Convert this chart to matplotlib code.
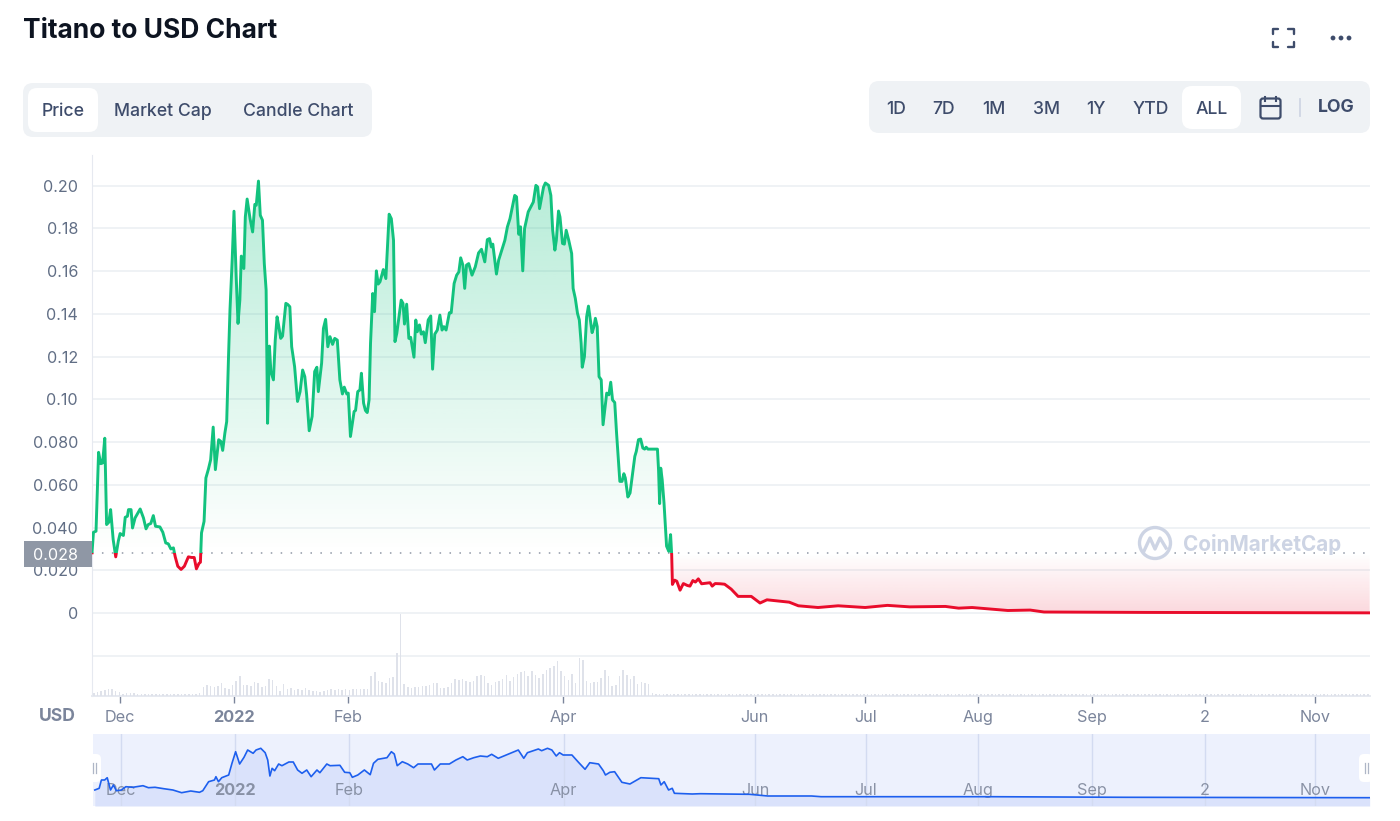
import numpy as np
import matplotlib
matplotlib.use("Agg")
import matplotlib.pyplot as plt
from matplotlib.patches import FancyBboxPatch, Rectangle, Circle

plt.rcParams['font.family'] = ['Inter', 'DejaVu Sans']

W, H = 1400, 821

# === Data ===
price_days = [
    0, .4, 1.1, 1.8, 2.4, 2.9, 3.5, 4.0, 4.6, 5.1, 5.8, 6.5, 7.2, 7.7, 8.6, 9.1, 9.7, 10.0, 10.7, 11.1,
    11.8, 13.2, 14.1, 14.8, 15.4, 16.1, 16.8, 17.4, 18.6, 19.4, 20.2, 20.9, 21.6, 22.3, 22.8, 23.5, 24.4, 25.3, 26.4, 27.3,
    28.0, 28.6, 29.3, 29.7, 30.0, 30.7, 31.2, 31.9, 32.5, 33.2, 33.8, 34.7, 35.3, 35.8, 36.4, 36.9, 37.4, 37.8, 38.4, 38.9,
    39.5, 40.0, 40.5, 40.9, 41.6, 42.0, 42.5, 43.3, 44.0, 44.6, 45.0, 45.6, 46.1, 46.7, 47.2, 47.7, 48.1, 48.6, 49.0, 49.7,
    50.2, 50.7, 51.1, 51.7, 52.2, 53.1, 53.6, 54.2, 54.7, 55.5, 56.3, 57.0, 57.7, 58.3, 58.8, 59.5, 60.3, 61.0, 61.6, 62.0,
    62.9, 63.4, 64.0, 64.6, 65.2, 65.9, 66.5, 67.2, 67.9, 68.6, 69.1, 69.8, 70.2, 70.8, 71.8, 72.2, 72.8, 73.4, 73.8, 74.4,
    74.9, 75.4, 75.9, 76.3, 76.9, 77.4, 77.9, 78.4, 78.9, 79.8, 80.5, 81.4, 82.0, 82.6, 83.0, 83.5, 84.7, 85.2, 85.6, 86.2,
    86.8, 87.3, 88.2, 88.7, 89.1, 89.7, 90.2, 90.8, 91.3, 92.1, 92.8, 93.3, 93.9, 94.6, 95.3, 95.9, 96.4, 97.0, 97.9, 98.4,
    99.2, 99.9, 100.5, 101.0, 101.6, 102.1, 102.6, 103.2, 104.1, 105.0, 105.9, 106.7, 107.6, 108.3, 108.9, 109.4, 109.8, 110.8, 111.4, 113.1,
    113.8, 114.5, 115.8, 116.3, 116.9, 117.4, 118.0, 118.5, 119.5, 120.9, 121.6, 122.1, 122.6, 123.7, 124.2, 125.1, 125.7, 126.2, 126.8, 127.2,
    127.8, 128.2, 128.9, 129.4, 129.9, 130.6, 131.4, 131.8, 132.4, 133.0, 133.5, 134.0, 134.3, 134.9, 135.5, 136.0, 136.4, 137.0, 137.5, 137.9,
    138.4, 138.9, 139.5, 140.0, 141.0, 141.6, 142.1, 142.6, 143.2, 143.7, 144.6, 145.2, 145.7, 146.1, 146.8, 147.4, 148.1, 148.7, 149.1, 149.7,
    150.3, 150.9, 151.4, 151.8, 152.3, 154.9, 155.2, 155.5, 155.8, 156.2, 156.7, 157.4, 158.0, 158.5, 158.8, 159.0, 159.6, 160.2, 161.1, 162.0,
    163.1, 163.8, 164.6, 165.3, 166.1, 167.0, 169.3, 169.9, 170.7, 172.1, 173.3, 175.1, 177.0, 180.6, 183.0, 184.9, 191.0, 193.5, 198.9, 204.4,
    211.8, 217.9, 224.0, 233.8, 237.4, 241.1, 250.9, 257.0, 260.8, 288.8, 350,
]
price_milli = [
    28.2, 37.8, 38.3, 75.2, 69.9, 70.2, 81.8, 41.4, 42.5, 48.4, 34.4, 26.3, 33.6, 37.2, 36.3, 44.8, 45.3, 48.4, 48.4, 39.8,
    44.5, 48.7, 44.5, 39.4, 41.4, 41.9, 45.6, 40.6, 40.3, 37.8, 32.8, 32.4, 30.0, 30.5, 26.3, 21.9, 20.4, 21.9, 26.3, 26.0,
    26.0, 20.7, 23.2, 23.8, 37.5, 42.9, 63.2, 67.4, 71.7, 87.0, 67.1, 81.1, 80.3, 76.1, 84.2, 89.6, 120.0, 141.8, 165.1, 188.0,
    157.3, 135.5, 146.4, 167.0, 161.2, 185.3, 193.7, 184.5, 178.3, 191.2, 190.8, 202.1, 186.1, 183.8, 163.5, 151.1, 88.8, 124.9, 113.0, 109.1,
    127.7, 138.6, 134.8, 128.5, 129.6, 144.9, 144.4, 143.3, 124.6, 115.3, 99.0, 103.6, 113.7, 110.6, 102.1, 85.3, 92.0, 113.0, 115.0, 103.6,
    116.9, 133.2, 137.4, 124.6, 129.3, 125.7, 128.5, 127.7, 109.1, 102.5, 105.7, 102.5, 102.9, 82.6, 94.3, 94.8, 103.6, 104.4, 112.2, 98.2,
    94.8, 93.8, 99.7, 126.2, 149.5, 141.0, 160.1, 153.9, 155.0, 160.7, 156.5, 186.6, 184.5, 174.4, 127.0, 130.9, 146.4, 144.9, 135.2, 144.5,
    128.5, 129.0, 119.7, 137.1, 131.6, 134.8, 130.5, 131.6, 126.5, 137.1, 139.0, 114.1, 130.5, 132.4, 139.4, 132.4, 134.0, 132.4, 140.5, 140.5,
    154.2, 158.1, 159.6, 166.2, 162.8, 151.9, 162.8, 163.5, 158.1, 162.0, 168.5, 170.2, 164.3, 174.7, 175.2, 171.3, 172.6, 158.6, 165.1, 174.4,
    180.7, 184.5, 195.4, 194.7, 177.2, 180.7, 160.1, 179.9, 187.7, 192.3, 200.1, 199.3, 189.2, 199.3, 201.2, 200.1, 195.4, 179.1, 169.8, 174.4,
    188.1, 185.3, 172.9, 172.6, 179.1, 174.4, 168.2, 151.9, 147.2, 140.2, 137.1, 126.2, 115.0, 120.0, 138.6, 143.6, 138.6, 131.2, 134.0, 137.9,
    134.0, 110.6, 109.1, 88.1, 102.9, 102.1, 108.0, 99.7, 98.5, 84.2, 61.6, 61.6, 65.2, 63.2, 54.3, 56.2, 65.5, 73.3, 75.6, 81.1,
    81.4, 77.2, 76.7, 77.6, 76.7, 76.7, 67.1, 51.2, 67.8, 62.4, 51.5, 31.3, 28.9, 36.7, 27.4, 13.4, 15.4, 14.9, 10.7, 13.8,
    12.9, 12.6, 15.2, 14.5, 16.0, 13.7, 14.2, 12.6, 13.8, 13.7, 13.5, 11.2, 7.8, 7.8, 4.7, 6.2, 5.1, 3.4, 2.6, 3.4,
    2.6, 3.6, 2.9, 3.1, 2.3, 2.6, 1.2, 1.4, 0.5, 0.3, 0.1,
]
current_price = 0.028

# one volume bar per day, arbitrary units
volume = [
    3, 4, 5, 6, 7, 7, 5, 4, 2, 3, 3, 3, 2, 2, 2, 2, 2, 2, 2, 2, 2, 2, 2, 2, 2, 2, 2, 2, 2, 3,
    9, 11, 10, 9, 10, 13, 8, 7, 11, 15, 20, 11, 11, 10, 14, 13, 9, 10, 17, 16, 10, 5, 12, 7, 8, 6, 7, 6, 8, 6,
    5, 5, 4, 5, 6, 7, 6, 7, 6, 7, 6, 7, 7, 7, 7, 7, 20, 24, 15, 14, 13, 18, 19, 43, 82, 12, 9, 8, 9, 9,
    10, 10, 11, 13, 13, 8, 8, 9, 13, 17, 16, 17, 15, 14, 15, 20, 21, 20, 13, 11, 14, 15, 17, 21, 15, 19, 22, 24, 25, 20,
    25, 21, 18, 22, 26, 28, 30, 35, 25, 20, 16, 22, 13, 38, 36, 15, 13, 14, 14, 18, 26, 20, 10, 11, 20, 26, 21, 17, 20, 12,
    14, 13, 12, 3, 2, 2, 2, 2, 2, 2, 2, 2, 2, 2, 2, 2, 2, 2, 2, 2, 2, 2, 2, 2, 2, 2, 2, 2, 2, 2,
    2, 2, 2, 2, 2, 2, 2, 2, 2, 2, 2, 2, 2, 2, 2, 2, 2, 2, 2, 2, 2, 2, 2, 2, 2, 2, 2, 2, 2, 2,
    2, 2, 2, 2, 2, 2, 2, 2, 2, 2, 2, 2, 2, 2, 2, 2, 2, 2, 2, 2, 2, 2, 2, 2, 2, 2, 2, 2, 2, 2,
    2, 2, 2, 2, 2, 2, 2, 2, 2, 2, 2, 2, 2, 2, 2, 2, 2, 2, 2, 2, 2, 2, 2, 2, 2, 2, 2, 2, 2, 2,
    2, 2, 2, 2, 2, 2, 2, 2, 2, 2, 2, 2, 2, 2, 2, 2, 2, 2, 2, 2, 2, 2, 2, 2, 2, 2, 2, 2, 2, 2,
    2, 2, 2, 2, 2, 2, 2, 2, 2, 2, 2, 2, 2, 2, 2, 2, 2, 2, 2, 2, 2, 2, 2, 2, 2, 2, 2, 2, 2, 2,
    2, 2, 2, 2, 2, 2, 2, 2, 2, 2, 2, 2, 2, 2, 2, 2, 2, 2, 2, 2,
]

# navigator line, its own compressed scale
nav_days = [
    0.5, 1.7, 2.3, 3.2, 3.9, 4.8, 5.6, 6.4, 7.8, 9, 10.9, 13.7, 15.2, 17, 19.4, 21.9, 24.3, 26.8, 29.2, 30.1,
    31.7, 33.3, 33.7, 34.4, 35.3, 37.2, 38.1, 39.1, 40.2, 41.4, 42.4, 43.9, 44.7, 46, 47.2, 47.9, 48.5, 49.1, 49.8, 50.9,
    51.8, 53.7, 54.9, 56.1, 57.3, 58.6, 59.8, 61.4, 62.2, 64.1, 65, 67.7, 69, 70.4, 71.1, 72.6, 74.4, 76, 76.9, 78.1,
    80.6, 81.8, 82.6, 83.4, 84.8, 86.3, 87.9, 89.1, 92.8, 93.6, 95.2, 97.7, 99.5, 101.4, 102.6, 104.4, 106.2, 108.1, 109.3, 111.1,
    116.6, 118.1, 119.1, 122.1, 123, 124.6, 125.8, 127, 127.9, 128.9, 131.3, 133.1, 134.9, 136.2, 138.6, 139.9, 140.5, 141.7, 143, 145,
    147.2, 150.2, 155.1, 155.7, 156.6, 157.8, 158.8, 159.4, 164.3, 166.5, 172.9, 180, 185, 197, 199.6, 246, 283, 350,
]
nav_level = [
    16, 17.7, 26, 26, 28.3, 16, 21, 15.3, 16, 19.3, 18.7, 20.3, 18.3, 18.7, 17.3, 16, 13.3, 15, 13.7, 15.3,
    24.3, 26, 29.3, 24.3, 28.3, 31, 42.7, 54.3, 42, 48.7, 56, 52.7, 56, 57.7, 53.3, 46, 30, 37.7, 35.3, 42,
    40.3, 44, 44, 36, 32.7, 36, 29.3, 36, 33.3, 42, 40.3, 40.7, 33.7, 33.3, 28.7, 31, 36, 31.3, 42.7, 46.7,
    48.3, 54.3, 52, 40.3, 44.3, 42, 38.3, 42, 42, 36, 42, 42, 46, 49.3, 46, 48.3, 50, 49.3, 51.7, 47.7,
    56, 47.7, 53.3, 57, 55.3, 57.7, 56, 50, 53.3, 51, 51, 43.7, 36.7, 43.3, 42, 35.3, 31, 33.7, 34.3, 23.7,
    22, 28.3, 27.3, 21, 24.3, 16, 17.7, 12.7, 12, 12.3, 12, 11.7, 10, 10, 9.3, 9.3, 8.7, 8.3,
]

y_ticks = [0, 0.02, 0.04, 0.06, 0.08, 0.10, 0.12, 0.14, 0.16, 0.18, 0.20]
y_labels = ['0', '0.020', '0.040', '0.060', '0.080', '0.10', '0.12', '0.14', '0.16', '0.18', '0.20']
x_tick_days = [7.7, 38.9, 70.1, 129, 181.6, 211.8, 242.7, 274, 304.9, 335]
x_tick_labels = ['Dec', '2022', 'Feb', 'Apr', 'Jun', 'Jul', 'Aug', 'Sep', '2', 'Nov']

tabs_left = [('Price', 63), ('Market Cap', 163), ('Candle Chart', 298)]
tabs_right = [('1D', 896), ('7D', 944), ('1M', 994), ('3M', 1046), ('1Y', 1096), ('YTD', 1151), ('ALL', 1212)]

GREEN = '#12c27e'
RED = '#e90c2b'
GRID = '#eff2f5'
TICK = '#616e85'
DARK = '#3e4c6b'


# === Helpers ===
def px_axes(left, top, right, bottom, **kw):
    return fig.add_axes([left / W, 1 - bottom / H, (right - left) / W, (bottom - top) / H], **kw)


def pill(ax, x0, y0, x1, y1, color, r=10, **kw):
    ax.add_patch(FancyBboxPatch((x0 + r, y0 + r), x1 - x0 - 2 * r, y1 - y0 - 2 * r,
                                boxstyle=f"round,pad={r},rounding_size={r}",
                                fc=color, ec='none', **kw))


def gradient(ax, rgb, alpha_top, alpha_bottom, extent, clip_path):
    img = np.zeros((256, 2, 4))
    img[..., :3] = matplotlib.colors.to_rgb(rgb)
    img[..., 3] = np.linspace(alpha_top, alpha_bottom, 256)[:, None]
    im = ax.imshow(img, extent=extent, aspect='auto', origin='upper', zorder=1,
                   interpolation='bilinear')
    im.set_clip_path(clip_path, transform=ax.transData)


fig = plt.figure(figsize=(W / 100, H / 100), dpi=100, facecolor='white')

# === Main price panel ===
ax = px_axes(92, 155, 1370, 696)
ax.patch.set_alpha(0)
xlim = (0, 350.1)
ylim = (-0.0388, 0.2143)

days = np.array(price_days)
price = np.array(price_milli) / 1000

area = ax.fill_between(days, price, current_price, color='none', lw=0)
area_path = area.get_paths()[0]
gradient(ax, GREEN, 0.31, 0.0, (0, 350.1, current_price, 0.205), area_path)
gradient(ax, RED, 0.0, 0.16, (0, 350.1, 0, current_price), area_path)

line_up, = ax.plot(days, price, color=GREEN, lw=2.1, zorder=3, solid_joinstyle='round')
line_dn, = ax.plot(days, price, color=RED, lw=2.1, zorder=3, solid_joinstyle='round')
line_up.set_clip_path(Rectangle((0, current_price), 350.1, 1, transform=ax.transData))
line_dn.set_clip_path(Rectangle((0, -1), 350.1, 1 + current_price, transform=ax.transData))

ax.axhline(current_price, color='#8f97a5', lw=1.1, dashes=(1, 5.5), zorder=2)
ax.axhline(-0.02, color=GRID, lw=1.4, zorder=0)

ax.set_xlim(*xlim)
ax.set_ylim(*ylim)
ax.set_yticks(y_ticks)
ax.set_yticklabels(y_labels, fontsize=11.6, color=TICK)
ax.tick_params(axis='y', length=0, pad=10)
ax.grid(axis='y', color=GRID, lw=1.4, zorder=0)
ax.set_axisbelow(True)
ax.set_xticks(x_tick_days)
ax.set_xticklabels(x_tick_labels, fontsize=11.7, color='#7b859b')
ax.get_xticklabels()[1].set_fontweight('bold')
ax.tick_params(axis='x', length=5, width=1, color='#7b859b', pad=5)
for side in ['top', 'right']:
    ax.spines[side].set_visible(False)
ax.spines['left'].set_color('#e6e9f0')
ax.spines['bottom'].set_color('#e6e9f0')
ax.spines['bottom'].set_linewidth(1.4)

# === Volume bars in the same box ===
ax_vol = px_axes(92, 155, 1370, 696)
ax_vol.axis('off')
ax_vol.bar(np.arange(len(volume)) + 0.5, volume, width=0.42, color='#dfe2ea')
ax_vol.set_xlim(*xlim)
ax_vol.set_ylim(0, 541)

# === Navigator ===
nav = px_axes(93, 734, 1370, 806)
nav.set_facecolor('#edf1fd')
nav.fill_between(nav_days, nav_level, 0, color='#dae2fb', lw=0, zorder=1)
for d in x_tick_days:
    nav.axvline(d, color='#d3dbf1', lw=1, zorder=2)
nav.plot(nav_days, nav_level, color='#1d5fee', lw=1.2, zorder=4)
for d, lab in zip(x_tick_days, x_tick_labels):
    nav.text(d, 16, lab, ha='center', va='center', fontsize=11.7, color='#7f889c', alpha=0.9,
             fontweight='bold' if lab == '2022' else 'normal', zorder=3)
nav.set_xlim(*xlim)
nav.set_ylim(0, 72)
nav.set_xticks([])
nav.set_yticks([])
for s in nav.spines.values():
    s.set_visible(False)

# === Page furniture in pixel coordinates ===
ui = px_axes(0, 0, W, H, zorder=5)
ui.set_xlim(0, W)
ui.set_ylim(H, 0)
ui.axis('off')

ui.text(23, 31, 'Titano to USD Chart', fontsize=19, fontweight='bold', color='#0d1421', va='center')

pill(ui, 23, 83, 372, 137, '#eff2f5')
pill(ui, 28, 88, 98, 132, 'white', r=9)
for label, x in tabs_left:
    ui.text(x, 111.5, label, fontsize=12.7, fontweight='medium', color=DARK, ha='center', va='center')

pill(ui, 869, 81, 1370, 133, '#eff2f5')
pill(ui, 1182, 86, 1241, 129, 'white', r=10)
for label, x in tabs_right:
    ui.text(x, 109.5, label, fontsize=12.7, fontweight='medium', color=DARK, ha='center', va='center')
ui.text(1336, 108, 'LOG', fontsize=12.7, fontweight='bold', color=DARK, ha='center', va='center')
ui.plot([1300, 1300], [99, 116], color='#cfd6e4', lw=1.3)

# calendar icon
ui.add_patch(FancyBboxPatch((1262, 100), 17, 17, boxstyle="round,pad=1.5,rounding_size=2.5",
                            fc='none', ec=DARK, lw=1.6))
ui.plot([1261, 1280], [106, 106], color=DARK, lw=1.5)
ui.plot([1265, 1265], [97, 101], color=DARK, lw=1.5)
ui.plot([1276, 1276], [97, 101], color=DARK, lw=1.5)

# fullscreen icon
for xs, ys in [([1273, 1273, 1278], [34, 29, 29]), ([1288, 1294, 1294], [29, 29, 34]),
               ([1273, 1273, 1278], [42, 47, 47]), ([1288, 1294, 1294], [47, 47, 42])]:
    ui.plot(xs, ys, color=DARK, lw=1.7, solid_capstyle='round')
# more dots
for x in [1333, 1341, 1349]:
    ui.add_patch(Circle((x, 38), 2.4, fc=DARK, ec='none'))

# current price tag
ui.add_patch(Rectangle((24, 541), 68, 26, fc='#8f97a5', ec='none'))
ui.text(78, 555, '0.028', color='white', fontsize=11.6, ha='right', va='center')

ui.text(57, 716.5, 'USD', fontsize=12.6, fontweight='bold', color='#7b859b', ha='center', va='center')

# watermark
WM = '#cdd4e4'
ui.add_patch(Circle((1155, 543), 15.5, fc='white', ec=WM, lw=2.4, zorder=2))
ui.plot([1144, 1150, 1155, 1160, 1166], [551, 538, 549, 538, 548], color=WM, lw=2.4, zorder=3)
ui.text(1183, 544.5, 'CoinMarketCap', fontsize=14.9, fontweight='bold', color=WM, va='center', zorder=3)

# navigator handles
for x in [94, 1366]:
    pill(ui, x - 7, 754, x + 7, 782, 'white', r=5, zorder=4)
    ui.plot([x - 1.5, x - 1.5], [763, 773], color='#aeb6c6', lw=0.9, zorder=5)
    ui.plot([x + 1.5, x + 1.5], [763, 773], color='#aeb6c6', lw=0.9, zorder=5)

fig.savefig('out.png', dpi=100)
